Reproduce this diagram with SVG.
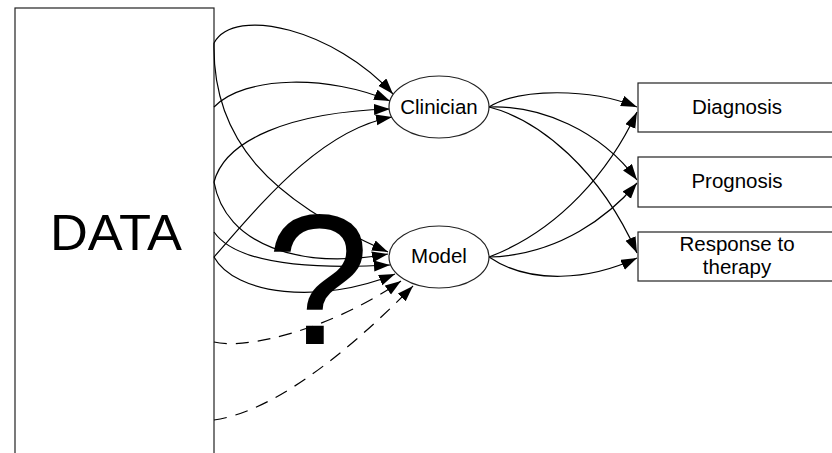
<svg xmlns="http://www.w3.org/2000/svg" width="832" height="453" viewBox="0 0 832 453">
  <style>
    .box { fill: #fff; stroke: #222; stroke-width: 1.2; }
    .lbl { font-family: "Liberation Sans", Arial, sans-serif; fill: #000; text-anchor: middle; }
    .edge { fill: none; stroke: #000; stroke-width: 1.2; marker-end: url(#arrow); }
    .dash { stroke-dasharray: 13 9; }
  </style>
  <defs>
    <marker id="arrow" markerUnits="userSpaceOnUse" markerWidth="17" markerHeight="12" refX="16" refY="5.5" orient="auto">
      <path d="M0,0 L16,5.5 L0,11 z" fill="#000"/>
    </marker>
  </defs>

  <rect width="832" height="453" fill="#fff"/>

  <g id="data">
    <rect class="box" x="15" y="8" width="199" height="460"/>
    <text class="lbl" x="116" y="250" font-size="50" textLength="132" lengthAdjust="spacingAndGlyphs">DATA</text>
  </g>

  <g id="connectors">
    <!-- data to clinician -->
    <path class="edge" d="M214,43 C235,5 335,30 393,94"/>
    <path class="edge" d="M214,107 C245,75 330,75 390,101"/>
    <path class="edge" d="M214,182 C225,140 290,112 390,109"/>
    <path class="edge" d="M214,257 C260,205 320,130 392,117"/>
    <!-- data to model -->
    <path class="edge" d="M214,43 C212,140 270,200 388,252"/>
    <path class="edge" d="M214,182 C225,245 300,270 388,254"/>
    <path class="edge" d="M214,232 C235,262 300,270 390,265"/>
    <path class="edge" d="M214,257 C235,295 320,305 395,274"/>
    <path class="edge dash" d="M214,342 C245,350 330,330 401,281"/>
    <path class="edge dash" d="M214,420 C270,412 340,360 413,286"/>
    <!-- clinician to outcomes -->
    <path class="edge" d="M489,107 C520,88 590,88 637,107"/>
    <path class="edge" d="M489,107 C540,105 600,130 637,180"/>
    <path class="edge" d="M489,107 C540,120 600,170 637,253"/>
    <!-- model to outcomes -->
    <path class="edge" d="M489,257 C560,230 610,170 637,112"/>
    <path class="edge" d="M489,257 C560,255 610,215 637,183"/>
    <path class="edge" d="M489,257 C530,285 590,280 637,258"/>
  </g>

  <g id="clinician">
    <ellipse class="box" cx="439" cy="107" rx="50" ry="31"/>
    <text class="lbl" x="439" y="114" font-size="20.5">Clinician</text>
  </g>

  <g id="model">
    <ellipse class="box" cx="439" cy="257" rx="50" ry="31"/>
    <text class="lbl" x="439" y="263" font-size="20.5">Model</text>
  </g>

  <g id="diagnosis">
    <rect class="box" x="638" y="83" width="200" height="49"/>
    <text class="lbl" x="737" y="114" font-size="20.5">Diagnosis</text>
  </g>

  <g id="prognosis">
    <rect class="box" x="638" y="157" width="200" height="50"/>
    <text class="lbl" x="737" y="188" font-size="20.5">Prognosis</text>
  </g>

  <g id="response">
    <rect class="box" x="638" y="232" width="200" height="49"/>
    <text class="lbl" x="737" y="251" font-size="20.5">Response to</text>
    <text class="lbl" x="737" y="274" font-size="20.5">therapy</text>
  </g>

  <g id="question">
    <text class="lbl" x="318" y="344" font-size="186">?</text>
  </g>
</svg>
